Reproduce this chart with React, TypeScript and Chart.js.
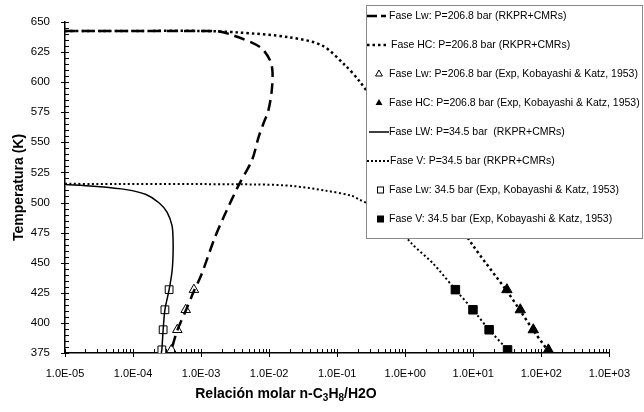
import React, { useEffect, useRef } from 'react';
import { Chart, registerables } from 'chart.js';

Chart.register(...registerables);

// ---------- Data ----------
const X_TICKS = [1e-5, 1e-4, 1e-3, 1e-2, 1e-1, 1, 10, 100, 1000];
const Y_MIN = 375;
const Y_MAX = 650;
const Y_STEP = 25;

// Fase Lw P=206.8 bar (RKPR+CMRs) - dashed
const lw206X = [1e-5, 1e-4, 1e-3, 1.76e-3, 3.05e-3, 7.38e-3, 1.03e-2, 1.12e-2, 1.09e-2, 9.7e-3, 8.3e-3, 7.0e-3, 5.6e-3, 3.6e-3, 2.19e-3, 1.57e-3, 1.01e-3, 7.85e-4, 5.94e-4, 4.47e-4, 3.55e-4];
const lw206T = [642.5, 642.5, 642.4, 642.2, 638.6, 629.0, 618.2, 608.6, 592.3, 576.0, 566.0, 554.3, 535.2, 514.8, 489.0, 469.9, 440.0, 426.4, 410.1, 393.8, 375.0];

// Fase HC P=206.8 bar (RKPR+CMRs) - dotted
const hc206X = [1e-5, 1e-4, 1e-3, 3.4e-3, 0.02, 0.06, 0.13, 0.214, 0.684, 2.57, 9.7, 31.2, 49.1, 76.2, 127, 137];
const hc206T = [642.5, 642.5, 642.5, 641.3, 637.2, 630.4, 614.1, 600.5, 561.0, 514.0, 465.0, 426.4, 410.1, 393.8, 376.6, 375.0];

// Experimental, 206.8 bar (Kobayashi & Katz, 1953)
const expT = [377.6, 394.3, 410.9, 427.6];
const lw206ExpX = [3.66e-4, 4.47e-4, 5.94e-4, 7.85e-4];
const hc206ExpX = [127, 76.2, 49.1, 31.2];

// Fase LW P=34.5 bar (RKPR+CMRs) - solid
const lw34X = [1e-5, 2.64e-5, 7.98e-5, 1.55e-4, 2.4e-4, 3.17e-4, 3.74e-4, 3.87e-4, 3.87e-4, 3.74e-4, 3.39e-4, 2.94e-4, 2.77e-4, 2.65e-4, 2.6e-4];
const lw34T = [515.0, 513.5, 510.7, 506.6, 499.8, 491.9, 480.8, 469.9, 456.4, 442.7, 427.6, 410.9, 394.3, 377.6, 375.0];

// Fase V P=34.5 bar (RKPR+CMRs) - dotted
const v34X = [1e-5, 6.6e-3, 0.0223, 0.0671, 0.163, 0.214, 0.49, 1.25, 2.57, 5.46, 9.9, 17.1, 31.9, 33.9];
const v34T = [515.5, 515.0, 513.7, 509.9, 505.6, 502.3, 492.0, 465.8, 449.3, 427.6, 410.9, 394.3, 377.6, 375.0];

// Experimental, 34.5 bar
const lw34ExpX = [2.65e-4, 2.77e-4, 2.94e-4, 3.39e-4];
const v34ExpX = [31.9, 17.1, 9.9, 5.46];

const LEGEND_LABELS = [
  'Fase Lw: P=206.8 bar (RKPR+CMRs)',
  'Fase HC: P=206.8 bar (RKPR+CMRs)',
  'Fase Lw: P=206.8 bar (Exp, Kobayashi & Katz, 1953)',
  'Fase HC: P=206.8 bar (Exp, Kobayashi & Katz, 1953)',
  'Fase LW: P=34.5 bar  (RKPR+CMRs)',
  'Fase V: P=34.5 bar (RKPR+CMRs)',
  'Fase Lw: 34.5 bar (Exp, Kobayashi & Katz, 1953)',
  'Fase V: 34.5 bar (Exp, Kobayashi & Katz, 1953)',
];

const Y_TITLE = 'Temperatura (K)';
const X_TITLE_PARTS = [
  { t: 'Relación molar n-C', sub: false },
  { t: '3', sub: true },
  { t: 'H', sub: false },
  { t: '8', sub: true },
  { t: '/H2O', sub: false },
];

const FONT = '"Liberation Sans", Arial, sans-serif';

const zip = (xs: number[], ys: number[]) => xs.map((x, i) => ({ x, y: ys[i] }));

function fmtExp(v: number): string {
  const e = Math.round(Math.log10(v));
  const sign = e < 0 ? '-' : '+';
  return '1.0E' + sign + String(Math.abs(e)).padStart(2, '0');
}

const decorPlugin = {
  id: 'decor',
  afterDraw(chart: any) {
    const ctx: CanvasRenderingContext2D = chart.ctx;
    const xs = chart.scales.x;
    const ys = chart.scales.y;
    const { left, bottom } = chart.chartArea;
    ctx.save();
    ctx.strokeStyle = '#000';
    ctx.lineWidth = 1;
    ctx.beginPath();
    // x ticks
    for (let e = -5; e <= 3; e++) {
      const px = Math.round(xs.getPixelForValue(Math.pow(10, e))) + 0.5;
      ctx.moveTo(px, bottom - 4);
      ctx.lineTo(px, bottom + 4);
      if (e < 3) {
        for (let m = 2; m <= 9; m++) {
          const p = Math.round(xs.getPixelForValue(m * Math.pow(10, e))) + 0.5;
          ctx.moveTo(p, bottom);
          ctx.lineTo(p, bottom - 4);
        }
      }
    }
    // y ticks
    for (let v = Y_MIN; v <= Y_MAX; v += 5) {
      const py = Math.round(ys.getPixelForValue(v)) + 0.5;
      if ((v - Y_MIN) % Y_STEP === 0) {
        ctx.moveTo(left - 4, py);
        ctx.lineTo(left + 4, py);
      } else {
        ctx.moveTo(left, py);
        ctx.lineTo(left + 4, py);
      }
    }
    ctx.stroke();

    // x title with subscripts
    const mainFont = 'bold 14px ' + FONT;
    const subFont = 'bold 10px ' + FONT;
    let total = 0;
    X_TITLE_PARTS.forEach((p) => {
      ctx.font = p.sub ? subFont : mainFont;
      total += ctx.measureText(p.t).width;
    });
    let cx = 286 - total / 2;
    const baseY = 398;
    ctx.fillStyle = '#000';
    ctx.textBaseline = 'alphabetic';
    ctx.textAlign = 'left';
    X_TITLE_PARTS.forEach((p) => {
      ctx.font = p.sub ? subFont : mainFont;
      ctx.fillText(p.t, cx, p.sub ? baseY + 3 : baseY);
      cx += ctx.measureText(p.t).width;
    });

    // legend box
    const bx = 366, by = 5, bw = 276, bh = 233;
    ctx.fillStyle = '#fff';
    ctx.fillRect(bx, by, bw, bh);
    ctx.strokeStyle = '#8a8a8a';
    ctx.lineWidth = 1;
    ctx.strokeRect(bx + 0.5, by + 0.5, bw, bh);

    ctx.font = '10.5px ' + FONT;
    ctx.textBaseline = 'middle';
    LEGEND_LABELS.forEach((label, i) => {
      const y = 16 + i * 29;
      ctx.save();
      ctx.strokeStyle = '#000';
      ctx.fillStyle = '#000';
      let tx = 389;
      if (i === 0) {
        ctx.lineWidth = 2.5;
        ctx.setLineDash([10, 4]);
        ctx.beginPath();
        ctx.moveTo(367, y);
        ctx.lineTo(386, y);
        ctx.stroke();
        tx = 389;
      } else if (i === 1) {
        ctx.lineWidth = 2.5;
        ctx.setLineDash([2.5, 3]);
        ctx.beginPath();
        ctx.moveTo(367, y);
        ctx.lineTo(386, y);
        ctx.stroke();
        tx = 391;
      } else if (i === 2 || i === 3) {
        const r = 4;
        ctx.lineWidth = 1;
        ctx.beginPath();
        ctx.moveTo(379, y - r);
        ctx.lineTo(379 + r * 0.866, y + r * 0.5);
        ctx.lineTo(379 - r * 0.866, y + r * 0.5);
        ctx.closePath();
        if (i === 3) ctx.fill(); else ctx.stroke();
      } else if (i === 4) {
        ctx.lineWidth = 1.5;
        ctx.beginPath();
        ctx.moveTo(369, y);
        ctx.lineTo(389, y);
        ctx.stroke();
      } else if (i === 5) {
        ctx.lineWidth = 2;
        ctx.setLineDash([2, 2]);
        ctx.beginPath();
        ctx.moveTo(367, y);
        ctx.lineTo(390, y);
        ctx.stroke();
        tx = 390;
      } else {
        ctx.lineWidth = 1;
        if (i === 7) ctx.fillRect(377, y - 3.5, 7, 7);
        else ctx.strokeRect(377.5, y - 3, 6, 6);
      }
      ctx.restore();
      ctx.fillStyle = '#000';
      ctx.textAlign = 'left';
      ctx.fillText(label, tx, y);
    });
    ctx.restore();
  },
};

export default function App() {
  const canvasRef = useRef<HTMLCanvasElement | null>(null);

  useEffect(() => {
    document.body.style.margin = '0';
    const canvas = canvasRef.current;
    if (!canvas) return;
    const lineBase = { showLine: true, pointRadius: 0, borderColor: '#000', backgroundColor: '#000', tension: 0.3, fill: false };
    const chart = new Chart(canvas, {
      type: 'scatter',
      data: {
        datasets: [
          { ...lineBase, label: LEGEND_LABELS[0], data: zip(lw206X, lw206T), borderWidth: 2.5, borderDash: [11, 6] },
          { ...lineBase, label: LEGEND_LABELS[1], data: zip(hc206X, hc206T), borderWidth: 2.5, borderDash: [2.5, 3] },
          { label: LEGEND_LABELS[2], data: zip(lw206ExpX, expT), showLine: false, pointStyle: 'triangle', pointRadius: 5.5, borderWidth: 1, borderColor: '#000', backgroundColor: '#fff' },
          { label: LEGEND_LABELS[3], data: zip(hc206ExpX, expT), showLine: false, pointStyle: 'triangle', pointRadius: 6, borderWidth: 1, borderColor: '#000', backgroundColor: '#000' },
          { ...lineBase, label: LEGEND_LABELS[4], data: zip(lw34X, lw34T), borderWidth: 1.5, tension: 0.3 },
          { ...lineBase, label: LEGEND_LABELS[5], data: zip(v34X, v34T), borderWidth: 2, borderDash: [2, 2.5] },
          { label: LEGEND_LABELS[6], data: zip(lw34ExpX, expT), showLine: false, pointStyle: 'rect', pointRadius: 5.5, borderWidth: 1, borderColor: '#000', backgroundColor: '#fff' },
          { label: LEGEND_LABELS[7], data: zip(v34ExpX, expT), showLine: false, pointStyle: 'rect', pointRadius: 6, borderWidth: 1, borderColor: '#000', backgroundColor: '#000' },
        ],
      },
      options: {
        responsive: false,
        animation: false,
        events: [],
        layout: { padding: { top: 16, right: 24, left: 0, bottom: 0 } },
        plugins: { legend: { display: false }, tooltip: { enabled: false }, title: { display: false } },
        scales: {
          x: {
            type: 'logarithmic',
            min: 1e-5,
            max: 1e3,
            afterBuildTicks: (s: any) => {
              s.ticks = X_TICKS.map((v) => ({ value: v }));
            },
            afterFit: (s: any) => {
              s.height = 59;
            },
            grid: { display: false, drawTicks: false },
            border: { display: true, color: '#000', width: 1.5 },
            ticks: {
              autoSkip: false,
              maxRotation: 0,
              padding: 14,
              color: '#000',
              font: { family: FONT, size: 11 },
              callback: (v: any) => fmtExp(Number(v)),
            },
            title: { display: false },
          },
          y: {
            type: 'linear',
            min: Y_MIN,
            max: Y_MAX,
            afterFit: (s: any) => {
              s.width = 65;
            },
            grid: { display: false, drawTicks: false },
            border: { display: true, color: '#000', width: 1.5 },
            ticks: {
              stepSize: Y_STEP,
              padding: 15,
              color: '#000',
              font: { family: FONT, size: 11.5 },
            },
            title: {
              display: true,
              text: Y_TITLE,
              color: '#000',
              font: { family: FONT, size: 14, weight: 'bold' },
              padding: { top: 11, bottom: 0 },
            },
          },
        },
      },
      plugins: [decorPlugin],
    } as any);
    return () => chart.destroy();
  }, []);

  return <canvas ref={canvasRef} width={644} height={412} style={{ display: 'block' }} />;
}
